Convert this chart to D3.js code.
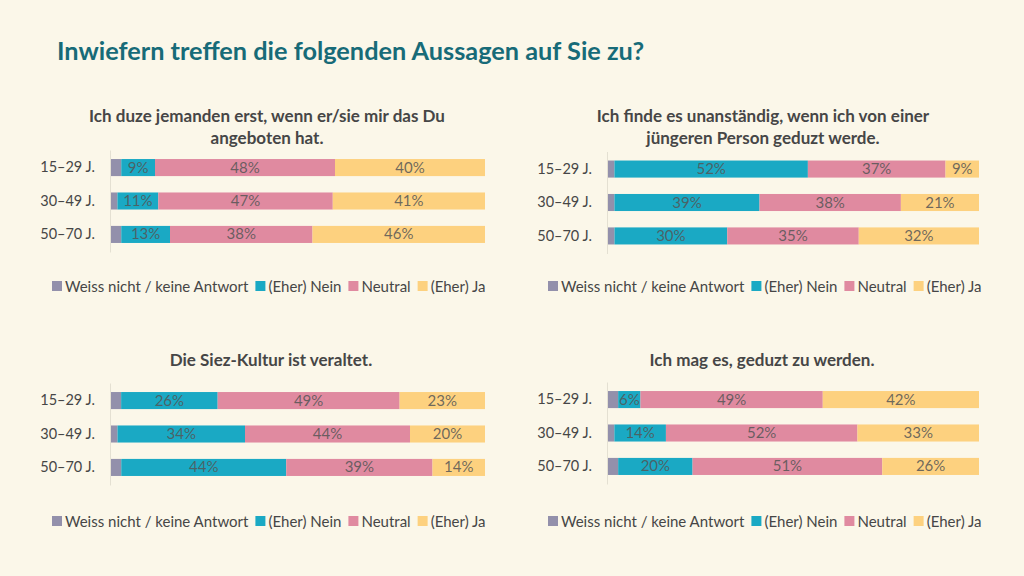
<!DOCTYPE html>
<html><head><meta charset="utf-8">
<script src="https://cdn.jsdelivr.net/npm/d3@7"></script>
<style>
html,body{margin:0;padding:0;background:#fbf7e9;}
text{font-family:Lato,"Noto Sans",sans-serif;}
</style></head>
<body>
<svg id="chart" width="1024" height="576"></svg>
<script>
const chartTitle = "Inwiefern treffen die folgenden Aussagen auf Sie zu?";
const ageGroups = ["15–29 J.", "30–49 J.", "50–70 J."];
const seriesNames = ["Weiss nicht / keine Antwort", "(Eher) Nein", "Neutral", "(Eher) Ja"];
const seriesColors = ["#9390ab", "#1aa9c4", "#e08aa0", "#fdd17f"];
const panelTitles = [
  ["Ich duze jemanden erst, wenn er/sie mir das Du", "angeboten hat."],
  ["Ich finde es unanständig, wenn ich von einer", "jüngeren Person geduzt werde."],
  ["Die Siez-Kultur ist veraltet."],
  ["Ich mag es, geduzt zu werden."]
];
// values per panel, per age group
const weissNicht = [[3, 2, 3], [2, 2, 2], [3, 2, 3], [3, 2, 3]];
const eherNein   = [[9, 11, 13], [52, 39, 30], [26, 34, 44], [6, 14, 20]];
const neutral    = [[48, 47, 38], [37, 38, 35], [49, 44, 39], [49, 52, 51]];
const eherJa     = [[40, 41, 46], [9, 21, 32], [23, 20, 14], [42, 33, 26]];

const svg = d3.select("#chart");
svg.append("rect").attr("width", 1024).attr("height", 576).attr("fill", "#fbf7e9");

svg.append("text").attr("x", 57).attr("y", 60)
  .attr("font-size", 25.3).attr("font-weight", 700).attr("fill", "#176b78")
  .text(chartTitle);

const layouts = [
  {left: 110, width: 375, titleX: 267, titleY: 122, top: 150, legendY: 287, legendX: 52},
  {left: 607, width: 372, titleX: 763, titleY: 122, top: 151.5, legendY: 287, legendX: 548},
  {left: 110, width: 375, titleX: 271, titleY: 366, top: 383, legendY: 522, legendX: 52},
  {left: 607, width: 372, titleX: 762, titleY: 366, top: 382, legendY: 522, legendX: 548}
];
const keys = ["w", "n", "u", "j"];

layouts.forEach((L, p) => {
  const g = svg.append("g");
  const rows = ageGroups.map((a, i) => ({
    age: a, w: weissNicht[p][i], n: eherNein[p][i], u: neutral[p][i], j: eherJa[p][i]
  }));
  const stacked = d3.stack().keys(keys).offset(d3.stackOffsetExpand)(rows);
  const x = d3.scaleLinear().domain([0, 1]).range([L.left, L.left + L.width]);
  const y = d3.scaleBand().domain(ageGroups).range([L.top, L.top + 102])
    .paddingInner(0.49).paddingOuter(0.27);

  // title
  const t = g.append("text").attr("text-anchor", "middle")
    .attr("font-size", 17).attr("font-weight", 700).attr("fill", "#464646");
  panelTitles[p].forEach((line, k) => {
    t.append("tspan").attr("x", L.titleX).attr("y", L.titleY + k * 22).text(line);
  });

  // bars
  stacked.forEach((s, si) => {
    const sg = g.append("g").attr("fill", seriesColors[si]);
    sg.selectAll("rect").data(s).join("rect")
      .attr("x", d => x(d[0])).attr("width", d => x(d[1]) - x(d[0]))
      .attr("y", d => y(d.data.age)).attr("height", y.bandwidth());
    if (si > 0) {
      g.append("g").selectAll("text").data(s).join("text")
        .attr("x", d => (x(d[0]) + x(d[1])) / 2)
        .attr("y", d => y(d.data.age) + y.bandwidth() / 2 + 5)
        .attr("text-anchor", "middle").attr("font-size", 15)
        .attr("fill", "#555").attr("fill-opacity", 0.85)
        .text(d => d.data[keys[si]] + "%");
    }
  });

  // axis
  const ax = g.append("g").attr("transform", `translate(${L.left},0)`)
    .call(d3.axisLeft(y).tickSize(0).tickPadding(15));
  ax.select(".domain").attr("stroke", "#e4e0d2").attr("stroke-width", 1);
  ax.selectAll("text").attr("font-size", 14.5).attr("fill", "#464646")
    .attr("font-family", "Lato, 'Noto Sans', sans-serif");

  // legend
  let lx = L.legendX;
  seriesNames.forEach((name, si) => {
    g.append("rect").attr("x", lx).attr("y", L.legendY - 6).attr("width", 10).attr("height", 10)
      .attr("fill", seriesColors[si]);
    const tx = g.append("text").attr("x", lx + 13).attr("y", L.legendY + 5)
      .attr("font-size", 15).attr("fill", "#464646").text(name);
    lx += 13 + tx.node().getComputedTextLength() + 7;
  });
});
</script>
</body></html>
